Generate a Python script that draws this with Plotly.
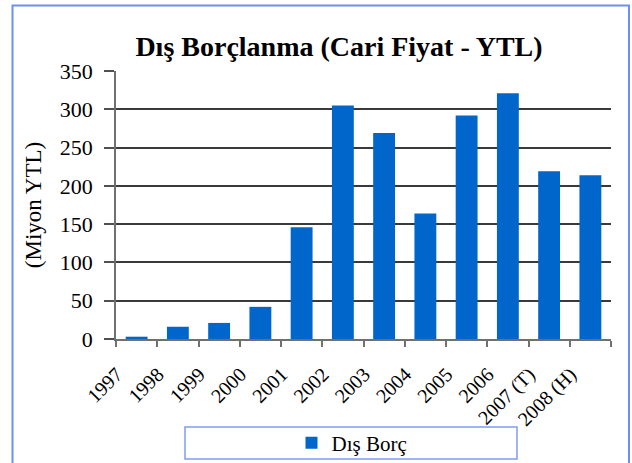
import plotly.graph_objects as go

categories = ["1997", "1998", "1999", "2000", "2001", "2002", "2003",
              "2004", "2005", "2006", "2007 (T)", "2008 (H)"]
values = [3, 16, 21, 42, 146, 305, 269, 164, 292, 321, 219, 214]
y_ticks = [0, 50, 100, 150, 200, 250, 300, 350]
series_name = "Dış Borç"
title_text = "Dış Borçlanma (Cari Fiyat - YTL)"
y_title = "(Miyon YTL)"

SERIF = "Liberation Serif, Times New Roman, serif"
L, R, T, B = 116, 611, 71, 339
W, H = 632, 463
PW, PH = R - L, B - T

fig = go.Figure()
fig.add_trace(go.Bar(
    x=categories, y=values, name=series_name,
    marker=dict(color="#0066CC", line=dict(width=0)),
    showlegend=True,
))

fig.update_layout(
    width=W, height=H,
    margin=dict(l=L, r=W - R, t=T, b=H - B, autoexpand=False),
    paper_bgcolor="white", plot_bgcolor="white",
    bargap=0.47,
    title=dict(text="<b>" + title_text + "</b>", x=339 / W, xanchor="center",
               y=1 - 46 / H, yanchor="middle", yref="container", xref="container",
               font=dict(family=SERIF, size=28, color="black")),
    font=dict(family=SERIF, color="black"),
    showlegend=True,
    legend=dict(orientation="h", x=(352 - L) / PW, xanchor="center",
                y=(B - 443) / PH, yanchor="middle",
                bgcolor="rgba(0,0,0,0)", font=dict(family=SERIF, size=21, color="black"),
                itemwidth=30),
    xaxis=dict(type="category", tickson="boundaries", ticks="outside", ticklen=6,
               tickcolor="#707070", tickwidth=1.5, showline=True, linecolor="#707070",
               linewidth=1.5, tickangle=-45, tickfont=dict(family=SERIF, size=20, color="black"),
               ticklabelstandoff=14, ticklabelshift=-20, automargin=False,
               showgrid=False),
    yaxis=dict(range=[0, 350], tickvals=y_ticks, ticks="outside", ticklen=10,
               tickcolor="#505050", tickwidth=1.5, showline=True, linecolor="#707070",
               linewidth=1.5, showgrid=True, gridcolor="#3a3a3a", gridwidth=1.5,
               zeroline=False, tickfont=dict(family=SERIF, size=22, color="black"),
               ticklabelstandoff=7, automargin=False,
               title=dict(text=y_title, font=dict(family=SERIF, size=23, color="black"),
                          standoff=12)),
    shapes=[
        dict(type="rect", xref="paper", yref="paper",
             x0=(12.5 - L) / PW, x1=(629 - L) / PW, y0=(B - 470) / PH, y1=(B - 5.5) / PH,
             line=dict(color="#6f8ff0", width=2), fillcolor="rgba(0,0,0,0)", layer="below"),
        dict(type="rect", xref="paper", yref="paper",
             x0=(185 - L) / PW, x1=(517 - L) / PW,
             y0=(B - 459) / PH, y1=(B - 427) / PH,
             line=dict(color="#7d9cf2", width=1.5), fillcolor="rgba(0,0,0,0)", layer="below"),
    ],
)

fig.write_html("out.html", config={"displayModeBar": False},
               post_script="document.body.style.margin='0';")
